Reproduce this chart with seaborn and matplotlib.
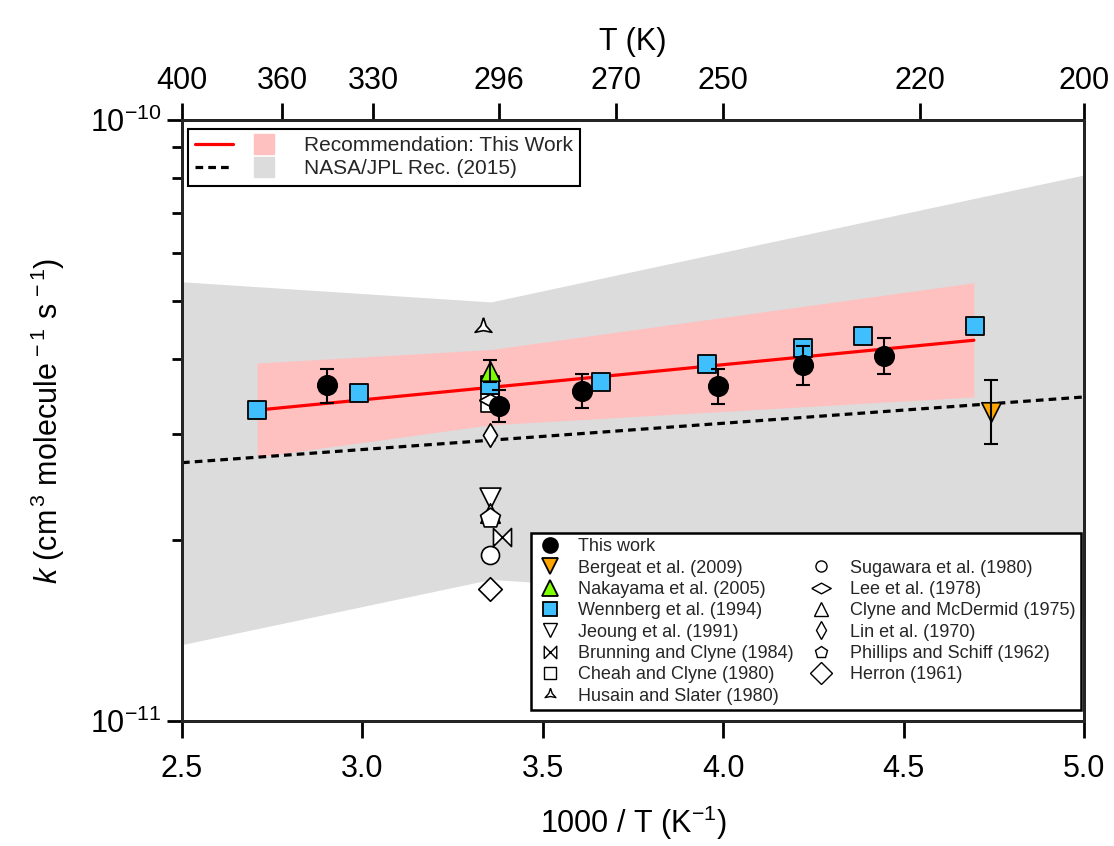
import matplotlib
matplotlib.use('Agg')
import matplotlib.pyplot as plt
import seaborn as sns
import numpy as np
from matplotlib.lines import Line2D
from matplotlib.markers import MarkerStyle
from matplotlib.legend_handler import HandlerTuple
from matplotlib.ticker import FixedLocator, NullFormatter

# ---- data (1000/T in K^-1, k in cm3 molecule-1 s-1) ----
this_x = [2.902, 3.379, 3.609, 3.986, 4.221, 4.446]
this_k = [3.62e-11, 3.34e-11, 3.54e-11, 3.61e-11, 3.91e-11, 4.05e-11]
this_lo = [3.38e-11, 3.14e-11, 3.32e-11, 3.37e-11, 3.62e-11, 3.78e-11]
this_hi = [3.85e-11, 3.55e-11, 3.78e-11, 3.85e-11, 4.21e-11, 4.34e-11]

bergeat_x = [4.742]
bergeat_k = [3.27e-11]
bergeat_lo = [2.89e-11]
bergeat_hi = [3.69e-11]

nakayama_x = [3.354]
nakayama_k = [3.82e-11]
nakayama_lo = [3.66e-11]
nakayama_hi = [3.99e-11]

wennberg_x = [2.708, 2.991, 3.354, 3.661, 3.955, 4.221, 4.388, 4.698]
wennberg_k = [3.29e-11, 3.51e-11, 3.62e-11, 3.67e-11, 3.93e-11, 4.17e-11, 4.37e-11, 4.54e-11]

# room temperature studies
jeoung = (3.354, 2.35e-11)
brunning = (3.387, 2.02e-11)
cheah = (3.354, 3.38e-11)
husain = (3.334, 4.52e-11)
sugawara = (3.354, 1.89e-11)
lee = (3.354, 3.42e-11)
clyne = (3.354, 2.22e-11)
lin = (3.354, 2.99e-11)
phillips = (3.354, 2.18e-11)
herron = (3.354, 1.66e-11)

# recommendations
rec_x = [2.708, 4.695]
rec_k = [3.29e-11, 4.30e-11]
rec_band_x = [2.708, 3.356, 4.695]
rec_band_hi = [3.94e-11, 4.15e-11, 5.36e-11]
rec_band_lo = [2.75e-11, 3.11e-11, 3.46e-11]

jpl_x = [2.5, 5.0]
jpl_k = [2.69e-11, 3.46e-11]
jpl_band_x = [2.5, 3.356, 5.0]
jpl_band_hi = [5.38e-11, 4.98e-11, 8.10e-11]
jpl_band_lo = [1.34e-11, 1.72e-11, 1.48e-11]

top_T = [400, 360, 330, 296, 270, 250, 220, 200]
x_ticks = [2.5, 3.0, 3.5, 4.0, 4.5, 5.0]
y_major = [1e-11, 1e-10]
y_minor = [m * 1e-11 for m in range(2, 10)]

# ---- markers ----
bowtie = MarkerStyle([(-1, -1), (-1, 1), (1, -1), (1, 1), (-1, -1)])
flat_diamond = MarkerStyle([(-1, 0), (0, 0.55), (1, 0), (0, -0.55), (-1, 0)])
star_pts = [(np.cos(np.deg2rad(a)) * r, np.sin(np.deg2rad(a)) * r)
            for a, r in [(90, 1), (150, 0.32), (210, 1), (270, 0.32), (330, 1), (30, 0.32), (90, 1)]]
tri_star = MarkerStyle(star_pts)

blue = '#40BFFF'
green = '#80FF00'
orange = '#FFA500'

sns.set_theme(style='ticks')
plt.rcParams['font.family'] = ['Liberation Sans', 'DejaVu Sans']
plt.rcParams['mathtext.fontset'] = 'custom'
plt.rcParams['mathtext.rm'] = 'Liberation Sans'
plt.rcParams['mathtext.it'] = 'Liberation Sans:italic'
plt.rcParams['mathtext.default'] = 'regular'

fig = plt.figure(figsize=(11.14, 8.46), dpi=100)
ax = fig.add_axes([0.1634, 0.1478, 0.8096, 0.7104])

ax.fill_between(jpl_band_x, jpl_band_lo, jpl_band_hi, color='#DCDCDC', lw=0, zorder=1)
ax.fill_between(rec_band_x, rec_band_lo, rec_band_hi, color='#FFC0C0', lw=0, zorder=2)
sns.lineplot(x=jpl_x, y=jpl_k, color='black', lw=2.3, linestyle=(0, (2.4, 1.6)), ax=ax, zorder=3)
sns.lineplot(x=rec_x, y=rec_k, color='red', lw=2.3, ax=ax, zorder=4)


def open_pt(pt, marker, ms, z=5):
    sns.scatterplot(x=[pt[0]], y=[pt[1]], marker=marker, s=ms ** 2, color='white',
                    edgecolor='black', linewidth=1.2, ax=ax, zorder=z, legend=False)


open_pt(husain, tri_star, 14)
open_pt(jeoung, 'v', 15)
open_pt(clyne, '^', 14)
open_pt(phillips, 'p', 15)
open_pt(brunning, bowtie, 13)
open_pt(sugawara, 'o', 13)
open_pt(herron, 'D', 12)
open_pt(lin, 'd', 12)
open_pt(cheah, 's', 13)
open_pt(lee, flat_diamond, 16)

sns.scatterplot(x=wennberg_x, y=wennberg_k, marker='s', s=13 ** 2, color=blue,
                edgecolor='black', linewidth=1.3, ax=ax, zorder=6, legend=False)

for xs, ks, lo, hi, mk, col, ms, z in [
        (nakayama_x, nakayama_k, nakayama_lo, nakayama_hi, '^', green, 14, 7),
        (bergeat_x, bergeat_k, bergeat_lo, bergeat_hi, 'v', orange, 14, 7),
        (this_x, this_k, this_lo, this_hi, 'o', 'black', 14, 9)]:
    err = [np.array(ks) - np.array(lo), np.array(hi) - np.array(ks)]
    ax.errorbar(xs, ks, yerr=err, fmt='none', ecolor='black', elinewidth=1.5,
                capsize=4.7, capthick=1.5, zorder=z + 1)
    sns.scatterplot(x=xs, y=ks, marker=mk, s=ms ** 2, color=col, edgecolor='black',
                    linewidth=1.2, ax=ax, zorder=z, legend=False)

ax.set_yscale('log')
ax.set_xlim(2.5, 5.0)
ax.set_ylim(1e-11, 1e-10)
ax.set_xticks(x_ticks)
ax.set_xticklabels([f'{v:.1f}' for v in x_ticks])
ax.yaxis.set_major_locator(FixedLocator(y_major))
ax.set_yticklabels([r'10$^{-11}$', r'10$^{-10}$'])
ax.yaxis.set_minor_locator(FixedLocator(y_minor))
ax.yaxis.set_minor_formatter(NullFormatter())

for sp in ax.spines.values():
    sp.set_linewidth(2.0)
    sp.set_color('black')
    sp.set_visible(True)

ax.tick_params(axis='y', which='major', direction='inout', length=22, width=2,
               labelsize=22, colors='black', pad=4)
ax.tick_params(axis='y', which='minor', direction='out', length=7, width=2, colors='black')
ax.tick_params(axis='x', which='major', direction='out', length=12, width=2,
               labelsize=22, colors='black', pad=12)

ax.set_xlabel(r'1000 / T (K$^{-1}$)', fontsize=22, labelpad=14, color='black')
ax.set_ylabel(r'$\mathit{k}$ (cm$^{\,3}$ molecule$^{\,-1}$ s$^{\,-1}$)', fontsize=22,
              labelpad=16, color='black')

ax2 = ax.twiny()
ax2.set_xlim(ax.get_xlim())
ax2.set_xticks([1000.0 / T for T in top_T])
ax2.set_xticklabels([str(T) for T in top_T])
ax2.tick_params(axis='x', direction='out', length=12, width=2, labelsize=22,
                colors='black', pad=5)
ax2.set_xlabel('T (K)', fontsize=22, labelpad=12, color='black')
for sp in ax2.spines.values():
    sp.set_linewidth(2.0)

# legend for recommendations
h_rec = (Line2D([], [], color='red', lw=2.3),
         Line2D([], [], marker='s', ls='none', ms=14, color='#FFC0C0', mec='#FFC0C0'))
h_jpl = (Line2D([], [], color='black', lw=2.3, linestyle=(0, (2.4, 1.6))),
         Line2D([], [], marker='s', ls='none', ms=14, color='#DCDCDC', mec='#DCDCDC'))
leg1 = ax.legend([h_rec, h_jpl], ['Recommendation: This Work', 'NASA/JPL Rec. (2015)'],
                 handler_map={tuple: HandlerTuple(ndivide=None, pad=0.6)},
                 loc='upper left', bbox_to_anchor=(0.0067, 0.985), borderaxespad=0,
                 fontsize=15, handlelength=4.2, handletextpad=1.0, labelspacing=0.2,
                 fancybox=False, framealpha=1, edgecolor='black', borderpad=0.35)
leg1.get_frame().set_linewidth(1.5)
ax.add_artist(leg1)


def proxy(marker, ms, fc, lw=1.0):
    return Line2D([], [], ls='none', marker=marker, ms=ms, mfc=fc, mec='black', mew=lw)


blank = Line2D([], [], ls='none')
handles = [proxy('o', 11, 'black'), proxy('v', 11, orange, 1.3), proxy('^', 11, green, 1.3),
           proxy('s', 10, blue, 1.3), proxy('v', 10, 'white'), proxy(bowtie, 9, 'white'),
           proxy('s', 9, 'white'), proxy(tri_star, 9, 'white'),
           blank, proxy('o', 8, 'white'), proxy(flat_diamond, 14, 'white'),
           proxy('^', 10, 'white'), proxy('d', 9, 'white'), proxy('p', 9, 'white'),
           proxy('D', 11, 'white')]
labels = ['This work', 'Bergeat et al. (2009)', 'Nakayama et al. (2005)',
          'Wennberg et al. (1994)', 'Jeoung et al. (1991)', 'Brunning and Clyne (1984)',
          'Cheah and Clyne (1980)', 'Husain and Slater (1980)',
          '', 'Sugawara et al. (1980)', 'Lee et al. (1978)', 'Clyne and McDermid (1975)',
          'Lin et al. (1970)', 'Phillips and Schiff (1962)', 'Herron (1961)']
leg2 = ax.legend(handles, labels, ncol=2, loc='lower right', bbox_to_anchor=(0.9967, 0.0183),
                 borderaxespad=0, fontsize=13, handlelength=1.4, handletextpad=0.9,
                 labelspacing=0.24, columnspacing=0.8, fancybox=False, framealpha=1,
                 edgecolor='black', borderpad=0.3)
leg2.get_frame().set_linewidth(1.8)
leg2.set_zorder(20)

fig.savefig('out.png', dpi=100)
